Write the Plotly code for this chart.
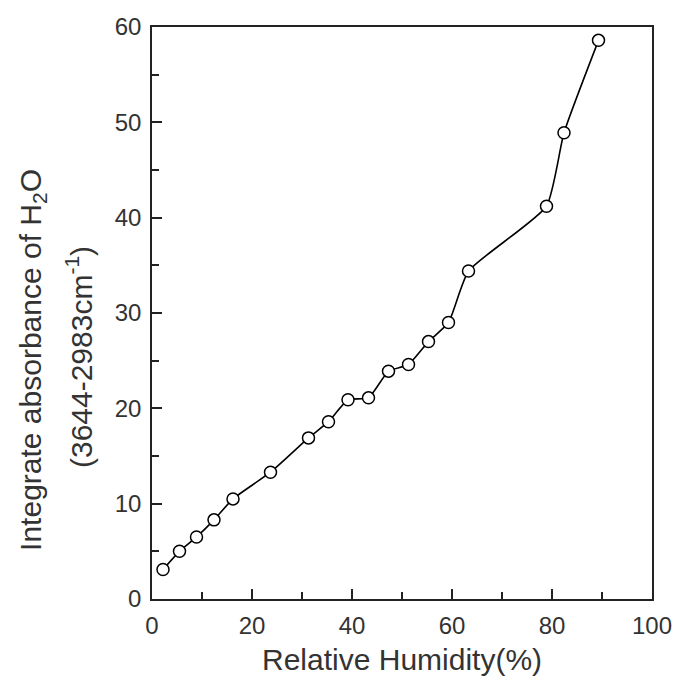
import plotly.graph_objects as go

humidity = [2.2, 5.5, 8.9, 12.4, 16.2, 23.7, 31.3, 35.3, 39.2, 43.3, 47.3, 51.3, 55.3, 59.3, 63.3, 78.9, 82.4, 89.3]
absorbance = [3.1, 5.0, 6.5, 8.3, 10.5, 13.3, 16.9, 18.6, 20.9, 21.1, 23.9, 24.6, 27.0, 29.0, 34.4, 41.2, 48.9, 58.6]

x_ticks = [0, 20, 40, 60, 80, 100]
x_minor = [10, 30, 50, 70, 90]
y_ticks = [0, 10, 20, 30, 40, 50, 60]
y_minor = [5, 15, 25, 35, 45, 55]

FONT = "Liberation Sans, Arial, sans-serif"
X_RANGE = [0, 100]
Y_RANGE = [0, 60]

fig = go.Figure()
fig.add_trace(go.Scatter(
    x=humidity, y=absorbance, mode="lines+markers",
    line=dict(color="black", width=1.6, shape="spline", smoothing=0.5),
    marker=dict(symbol="circle", size=12, color="white",
                line=dict(color="black", width=1.5)),
    showlegend=False,
))
# empty trace to host the minor-tick overlay axes
fig.add_trace(go.Scatter(x=[], y=[], xaxis="x2", yaxis="y2", showlegend=False,
                         hoverinfo="skip"))

axis_common = dict(
    showgrid=False, zeroline=False, showline=True, linecolor="#222", linewidth=1.5,
    mirror=True, ticks="inside", tickcolor="#222", tickwidth=1.5, ticklen=10,
    tickfont=dict(family=FONT, size=24, color="#333"),
)
minor_common = dict(
    showgrid=False, zeroline=False, showline=False, ticks="inside", tickcolor="#222",
    tickwidth=1.5, ticklen=7, showticklabels=False,
)
fig.update_layout(
    xaxis=dict(range=X_RANGE, tickvals=x_ticks, ticklabelstandoff=4, **axis_common),
    yaxis=dict(range=Y_RANGE, tickvals=y_ticks, ticklabelstandoff=4, **axis_common),
    xaxis2=dict(range=X_RANGE, tickvals=x_minor, overlaying="x", anchor="y2", **minor_common),
    yaxis2=dict(range=Y_RANGE, tickvals=y_minor, overlaying="y", anchor="x2", **minor_common),
)

fig.add_annotation(text="Relative Humidity(%)", xref="paper", yref="paper", x=0.5, y=0,
                   yshift=-60, showarrow=False, yanchor="middle",
                   font=dict(family=FONT, size=30, color="#333"))
fig.add_annotation(text="Integrate absorbance of H<sub>2</sub>O", xref="paper", yref="paper",
                   x=0, y=0.418, xshift=-119, textangle=-90, showarrow=False,
                   xanchor="center", yanchor="middle",
                   font=dict(family=FONT, size=30, color="#333"))
fig.add_annotation(text="(3644-2983cm<sup>-1</sup>)", xref="paper", yref="paper",
                   x=0, y=0.423, xshift=-73, textangle=-90, showarrow=False,
                   xanchor="center", yanchor="middle",
                   font=dict(family=FONT, size=30, color="#333"))

fig.update_layout(
    width=684, height=681,
    margin=dict(l=152, r=25, t=27, b=82),
    plot_bgcolor="white", paper_bgcolor="white",
)
fig.write_html("out.html", config={"displayModeBar": False},
               post_script="document.body.style.margin='0';document.body.style.overflow='hidden';")
